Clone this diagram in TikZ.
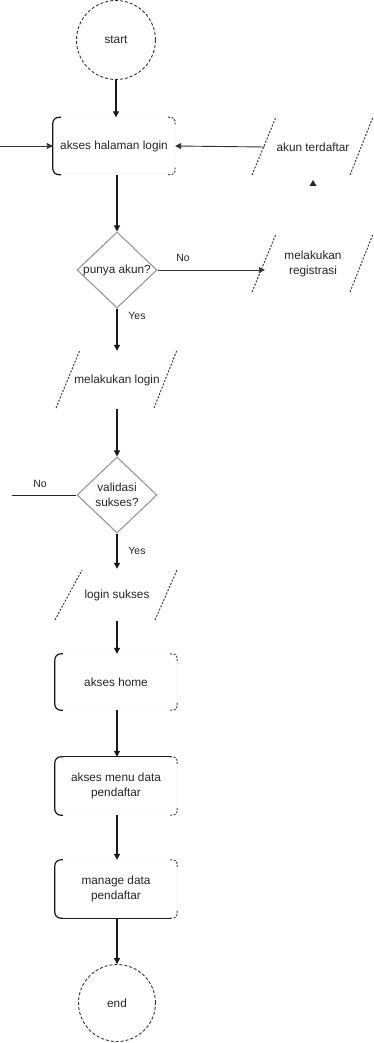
\documentclass[tikz,border=0pt]{standalone}
\usepackage{fontspec}
\setmainfont{Liberation Sans}
\usetikzlibrary{shapes.geometric,arrows.meta,calc}
\newcommand\procmarks[1]{%
  \draw[bracket, rounded corners=6pt] ($(#1.north west)+(8,0)$) -- (#1.north west) -- (#1.south west) -- ($(#1.south west)+(8,0)$);
  \draw[tick, rounded corners=4pt] ($(#1.north east)+(-7,0)$) -- (#1.north east) -- ($(#1.north east)+(0,7)$);
  \draw[tick, rounded corners=4pt] ($(#1.south east)+(-7,0)$) -- (#1.south east) -- ($(#1.south east)+(0,-7)$);
}
\newcommand\iosides[1]{%
  \draw[pside] ($(#1)+(-61,28)$) -- ($(#1)+(-37,-30)$);
  \draw[pside] ($(#1)+(37,28)$) -- ($(#1)+(60,-30)$);
}
\begin{document}
\begin{tikzpicture}[x=1pt,y=-1pt,
  every node/.style={font=\fontsize{11.8}{15.5}\selectfont, text=black!85, align=center},
  term/.style={circle, draw=black!80, dash pattern=on 3pt off 2pt, line width=0.9pt, minimum size=79pt, inner sep=0},
  proc/.style={rectangle, rounded corners=6pt, draw=black!8, minimum width=122pt, minimum height=57pt, inner sep=0},
  io/.style={minimum width=96pt, minimum height=58pt, inner sep=0},
  dec/.style={diamond, draw=black!40, line width=1.1pt, minimum width=80pt, minimum height=76pt, inner sep=0},
  arr/.style={-{Triangle[length=6pt,width=6pt]}, line width=1.3pt, black!90},
  thinarr/.style={-{Triangle[length=6pt,width=6pt]}, line width=0.9pt, black!80},
  lin/.style={line width=1pt, black!85},
  pside/.style={line width=1pt, black!75, dash pattern=on 2pt off 1.5pt},
  bracket/.style={line width=1.2pt, black!90},
  tick/.style={line width=1pt, black!70, dash pattern=on 2pt off 1.5pt},
  lbl/.style={font=\fontsize{10.5}{12}\selectfont}
]
\useasboundingbox (0,0) rectangle (373,1043);

% nodes
\node[term] (start) at (116,40) {start};
\node[proc] (login) at (114,146) {akses halaman login};
\node[io] (akun) at (313,147) {akun terdaftar};
\node[dec] (punya) at (117,270) {};
\node (punyaT) at (punya) {punya akun?};
\node[io] (reg) at (313,264) {melakukan\\registrasi};
\node[io] (mlogin) at (117,380) {melakukan login};
\node[dec] (valid) at (117,495) {};
\node (validT) at (valid) {validasi\\sukses?};
\node[io, minimum height=52pt] (sukses) at (117,595) {login sukses};
\node[proc, minimum height=56pt] (home) at (116,682) {akses home};
\node[proc, minimum height=58pt] (menu) at (116,786) {akses menu data\\pendaftar};
\node[proc, minimum height=58pt] (manage) at (116,889) {manage data\\pendaftar};
\node[term, minimum size=77pt] (end) at (117,1003) {end};

% shape decorations
\procmarks{login}
\procmarks{home}
\procmarks{menu}
\procmarks{manage}
\draw[bracket] ($(menu.north west)+(6,0)$) -- ($(menu.north east)+(-6,0)$);
\draw[bracket] ($(manage.south west)+(6,0)$) -- ($(manage.south east)+(-6,0)$);
\iosides{akun}
\iosides{reg}
\iosides{mlogin}
\draw[pside] ($(sukses)+(-62,25)$) -- ($(sukses)+(-35,-25)$);
\draw[pside] ($(sukses)+(38,25)$) -- ($(sukses)+(60,-25)$);
\fill[black!85] (309.5,186) -- (316.5,186) -- (313,180) -- cycle;

% free ends
\coordinate (inA) at (0,146);
\coordinate (inB) at (12,495);

% connectors
\draw[arr] (start) -- (login.north -| start);
\draw[thinarr] (inA) -- (login.west);
\draw[thinarr] (akun.west) -- (login.east);
\draw[arr] (login.south -| punya) -- (punya.north);
\draw[thinarr] (punya.east) -- (punya.east -| reg.west);
\draw[arr] (punya.south) -- (mlogin.north);
\draw[arr] (mlogin.south) -- (valid.north);
\draw[lin] (inB) -- (valid.west);
\draw[arr] (valid.south) -- (sukses.north);
\draw[arr] (sukses.south) -- (home.north -| sukses);
\draw[arr] (home.south -| sukses) -- (menu.north -| sukses);
\draw[arr] (menu.south -| sukses) -- (manage.north -| sukses);
\draw[arr] (manage.south -| end) -- (end.north);

% labels
\node[lbl] (no1) at (183,258) {No};
\node[lbl] (yes1) at (137,316) {Yes};
\node[lbl] (no2) at (40,484) {No};
\node[lbl] (yes2) at (137,551) {Yes};
\end{tikzpicture}
\end{document}
